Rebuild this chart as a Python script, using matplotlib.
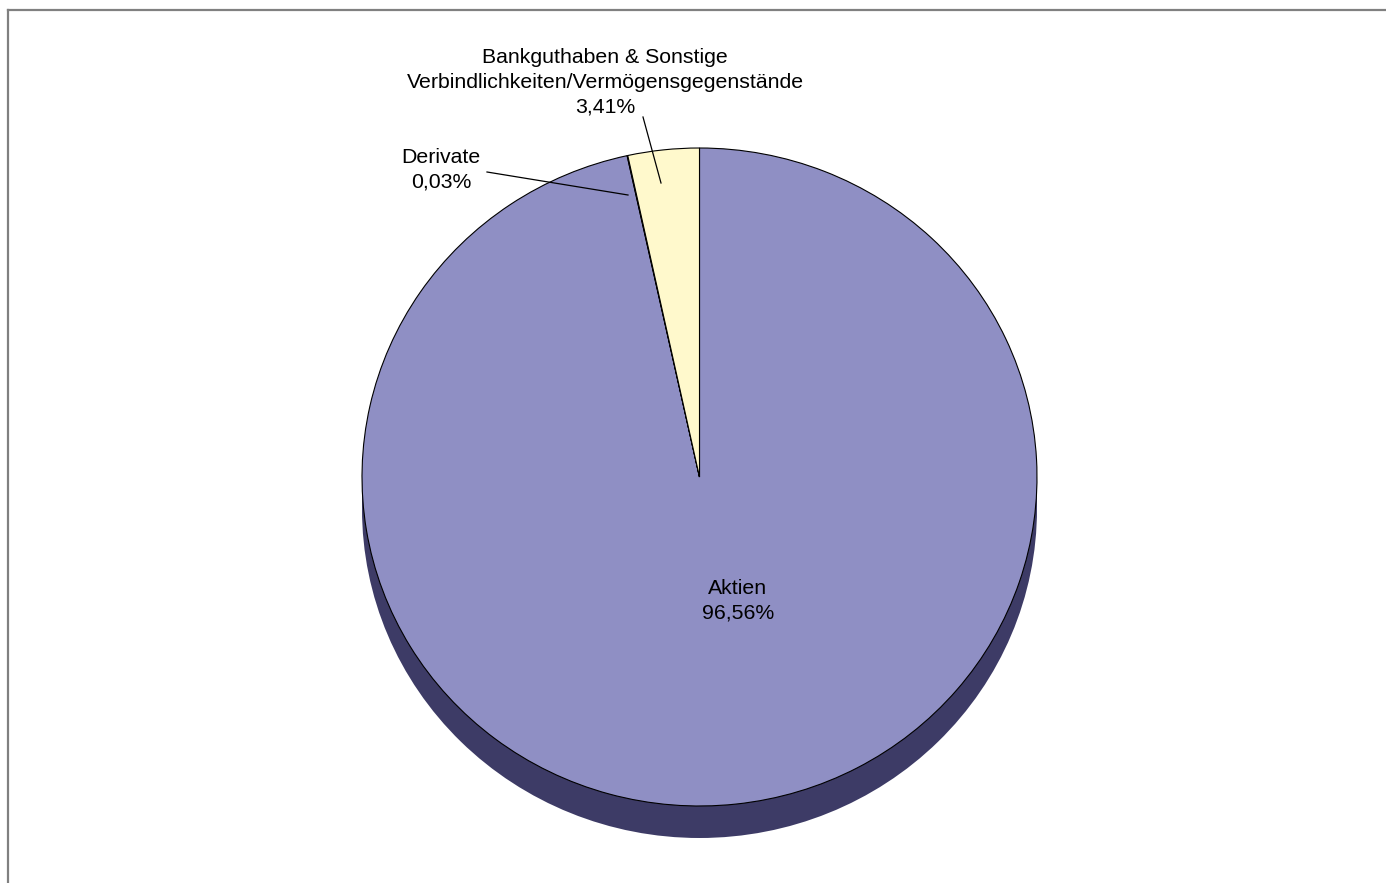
import matplotlib.pyplot as plt
from matplotlib.patches import Ellipse, Rectangle
from matplotlib.lines import Line2D

# data
labels = ['Aktien', 'Derivate', 'Bankguthaben & Sonstige\nVerbindlichkeiten/Vermögensgegenstände']
values = [96.56, 0.03, 3.41]
value_labels = ['96,56%', '0,03%', '3,41%']
colors = ['#8f8fc4', '#993366', '#fff9cc']
side_color = '#3d3b66'

W, H = 1386, 883
cx, cy = 699.5, 477.0      # pie centre in pixels (from top)
rx, ry = 337.5, 329.0      # pixel radii of the top face
depth = 32 / ry            # thickness of the pie in data units

def px(x, y):
    # pixel position -> data coords
    return (x - cx) / rx, (cy - y) / ry

fig = plt.figure(figsize=(W / 100, H / 100), dpi=100, facecolor='white')
ax = fig.add_axes([0, 0, 1, 1])

# side of the tilted pie
ax.add_patch(Ellipse((0, -depth), 2, 2, facecolor=side_color, edgecolor='none', zorder=1))
ax.add_patch(Rectangle((-1, -depth), 2, depth, facecolor=side_color, edgecolor='none', zorder=1))

wedges, _ = ax.pie(values, colors=colors, startangle=90, counterclock=False, radius=1,
                   wedgeprops=dict(edgecolor='black', linewidth=0.8))
for w in wedges:
    w.set_zorder(2)

ax.set_aspect('auto')
x0, y0 = px(0, H)
x1, y1 = px(W, 0)
ax.set_xlim(x0, x1)
ax.set_ylim(y0, y1)
ax.axis('off')

font = dict(family=['Liberation Sans', 'DejaVu Sans'], fontsize=15.3, color='black',
            ha='center', va='center', linespacing=1.38)

# label positions (pixels) and leader lines
label_pos = [(738, 601), (441, 170), (605, 82)]
leaders = [None, ((487, 172), (628, 195)), ((643, 117), (661, 183))]
for lab, val, pos, lead in zip(labels, value_labels, label_pos, leaders):
    ax.text(*px(*pos), f'{lab}\n{val}', zorder=5, **font)
    if lead:
        (xa, ya), (xb, yb) = lead
        p1 = px(xa, ya)
        p2 = px(xb, yb)
        ax.plot([p1[0], p2[0]], [p1[1], p2[1]], color='black', linewidth=0.9, zorder=4)

# frame lines at top and left
fig.add_artist(Line2D([7.5 / W, 7.5 / W], [0, 1 - 10 / H], color='#808080', linewidth=1.6,
                      transform=fig.transFigure))
fig.add_artist(Line2D([7.5 / W, 1], [1 - 10 / H, 1 - 10 / H], color='#808080', linewidth=1.6,
                      transform=fig.transFigure))

fig.savefig('out.png', dpi=100, facecolor='white')
